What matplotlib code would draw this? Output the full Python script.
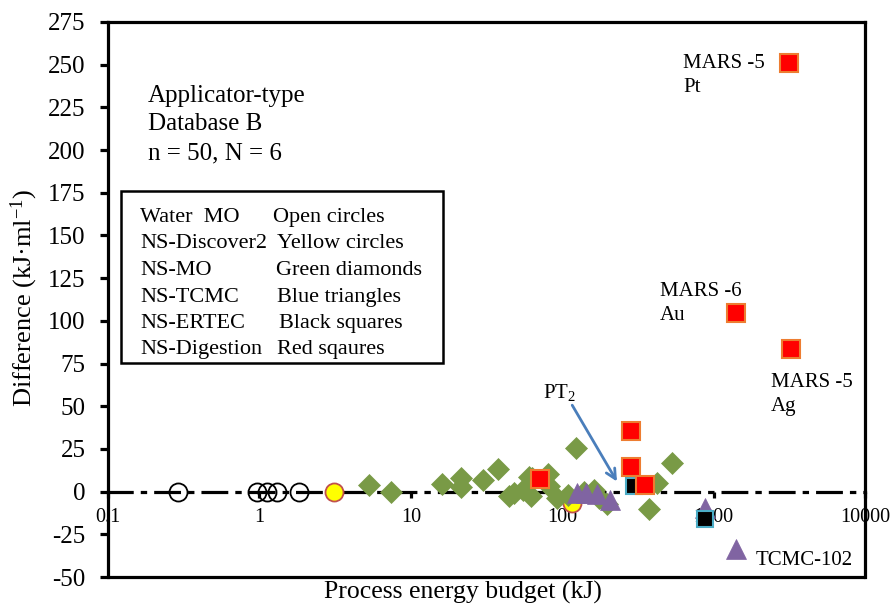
import matplotlib
matplotlib.use("Agg")
import matplotlib.pyplot as plt
from matplotlib.patches import Rectangle

plt.rcParams['font.family'] = ['Liberation Serif', 'DejaVu Serif']
plt.rcParams['mathtext.fontset'] = 'custom'
plt.rcParams['mathtext.rm'] = 'Liberation Serif'
plt.rcParams['mathtext.it'] = 'Liberation Serif:italic'
plt.rcParams['axes.unicode_minus'] = False

# ---------------- data ----------------
water_x = [0.29, 0.97, 1.12, 1.30, 1.84]
water_y = [0, 0, 0, 0, 0]

yellow_x = [3.1, 116]
yellow_y = [0, -6.5]

green_x = [5.3, 7.4, 16, 21.4, 21.4, 30, 37.5, 44.6, 48, 55, 60, 62, 63.5,
           80, 82, 92, 110, 123, 140, 162, 175, 198, 373, 424, 531]
green_y = [4, 0, 4.5, 8, 2.5, 7, 13.3, -2.4, -1, 1, 8.6, -2.7, 8,
           10.5, 3, -3.5, -2, 25.5, 0, 1, -3.5, -7.5, -10, 5, 17]

tri_x = [126, 143, 170, 208, 881, 1415]
tri_y = [-0.8, -0.8, -1.5, -4.7, -9.4, -33.4]

black_x = [296, 877]
black_y = [3.1, -16.2]

red_x = [71, 284, 284, 350, 1403, 3250, 3160]
red_y = [7.5, 14.4, 35.5, 3.6, 104.5, 83.5, 251]

xticks = [0.1, 1, 10, 100, 1000, 10000]
xticklabels = ['0.1', '1', '10', '100', '1000', '10000']
yticks = list(range(-50, 276, 25))

legend_left = ['Water  MO', 'NS-Discover2', 'NS-MO', 'NS-TCMC', 'NS-ERTEC', 'NS-Digestion']
legend_right = ['Open circles', 'Yellow circles', 'Green diamonds', 'Blue triangles',
                'Black squares', 'Red sqaures']

# ---------------- figure ----------------
W, H = 893, 611
fig = plt.figure(figsize=(W / 100, H / 100), dpi=100)


def fx(x):
    return x / W


def fy(y):
    return 1 - y / H


ax = fig.add_axes([fx(108), fy(577), (865 - 108) / W, (577 - 22) / H])
ax.set_xscale('log')
ax.set_xlim(0.1, 10000)
ax.set_ylim(-50, 275)

lw = 2.3
for s in ['left', 'top', 'right']:
    ax.spines[s].set_linewidth(lw)
    ax.spines[s].set_zorder(8)
ax.spines['bottom'].set_position(('data', 0))
ax.spines['bottom'].set_linewidth(lw)
ax.spines['bottom'].set_linestyle((0, (7.4, 3.2, 1.0, 3.2)))
ax.plot([0, 1], [0, 0], transform=ax.transAxes, color='k', lw=lw,
        clip_on=False, solid_capstyle='butt')

ax.set_xticks(xticks)
ax.set_xticklabels(xticklabels)
ax.xaxis.set_minor_locator(matplotlib.ticker.NullLocator())
ax.set_yticks(yticks)
ax.tick_params(axis='x', direction='out', length=4, width=lw, labelsize=14.5, pad=8)
ax.tick_params(axis='y', direction='out', length=6, width=lw, labelsize=18, pad=10)

# ---------------- markers ----------------
ax.plot(water_x, water_y, 'o', ms=13, mfc='none', mec='black', mew=1.3, zorder=3)
ax.plot(yellow_x, yellow_y, 'o', ms=13, mfc='#FFFF00', mec='#C0504D', mew=1.3, zorder=3)
ax.plot(green_x, green_y, 'D', ms=11.5, mfc='#799A46', mec='#799A46', mew=0.5, zorder=3)
ax.plot(tri_x, tri_y, '^', ms=14.5, mfc='#8064A2', mec='#8064A2', mew=0.5, zorder=4)
ax.plot(black_x, black_y, 's', ms=11.5, mfc='black', mec='#4BACC6', mew=1.5, zorder=5)
ax.plot(red_x, red_y, 's', ms=12.5, mfc='#FF0000', mec='#ED7D31', mew=1.5, zorder=6)

# arrow PT2
ax.annotate('', xy=(235, 4.5), xytext=(114, 52),
            arrowprops=dict(arrowstyle='->,head_length=0.7,head_width=0.35',
                            color='#4A7EBB', lw=2), zorder=7)

# ---------------- texts ----------------
def t(x, y, s, size, **kw):
    fig.text(fx(x), fy(y), s, fontsize=size, va='baseline', ha='left', **kw)


t(148, 102, 'Applicator-type', 18)
t(148, 130, 'Database B', 18)
t(148, 159, 'n = 50, N = 6', 18)

fig.add_artist(Rectangle((fx(121), fy(363)), (443 - 121) / W, (363 - 191) / H,
                         transform=fig.transFigure, fill=False, ec='black', lw=1.8))
base = [222, 248, 275, 302, 328, 354]
col2 = [273, 277, 276, 277, 279, 277]
for i in range(6):
    t(140, base[i], legend_left[i], 16)
    t(col2[i], base[i], legend_right[i], 16)

t(683, 68, 'MARS -5', 15)
t(683, 92, 'Pt', 15)
t(660, 296, 'MARS -6', 15)
t(660, 320, 'Au', 15)
t(771, 387, 'MARS -5', 15)
t(771, 411, 'Ag', 15)
t(756, 565, 'TCMC-102', 15)
t(543, 398, r'PT$_{\mathrm{2}}$', 15)

fig.text(fx(24), fy(298), r'Difference (kJ·ml$^{\mathrm{-1}}$)', fontsize=19,
         rotation=90, ha='center', va='center')
fig.text(fx(463), fy(599), 'Process energy budget (kJ)', fontsize=18.5,
         ha='center', va='baseline')

fig.savefig('out.png', dpi=100)
